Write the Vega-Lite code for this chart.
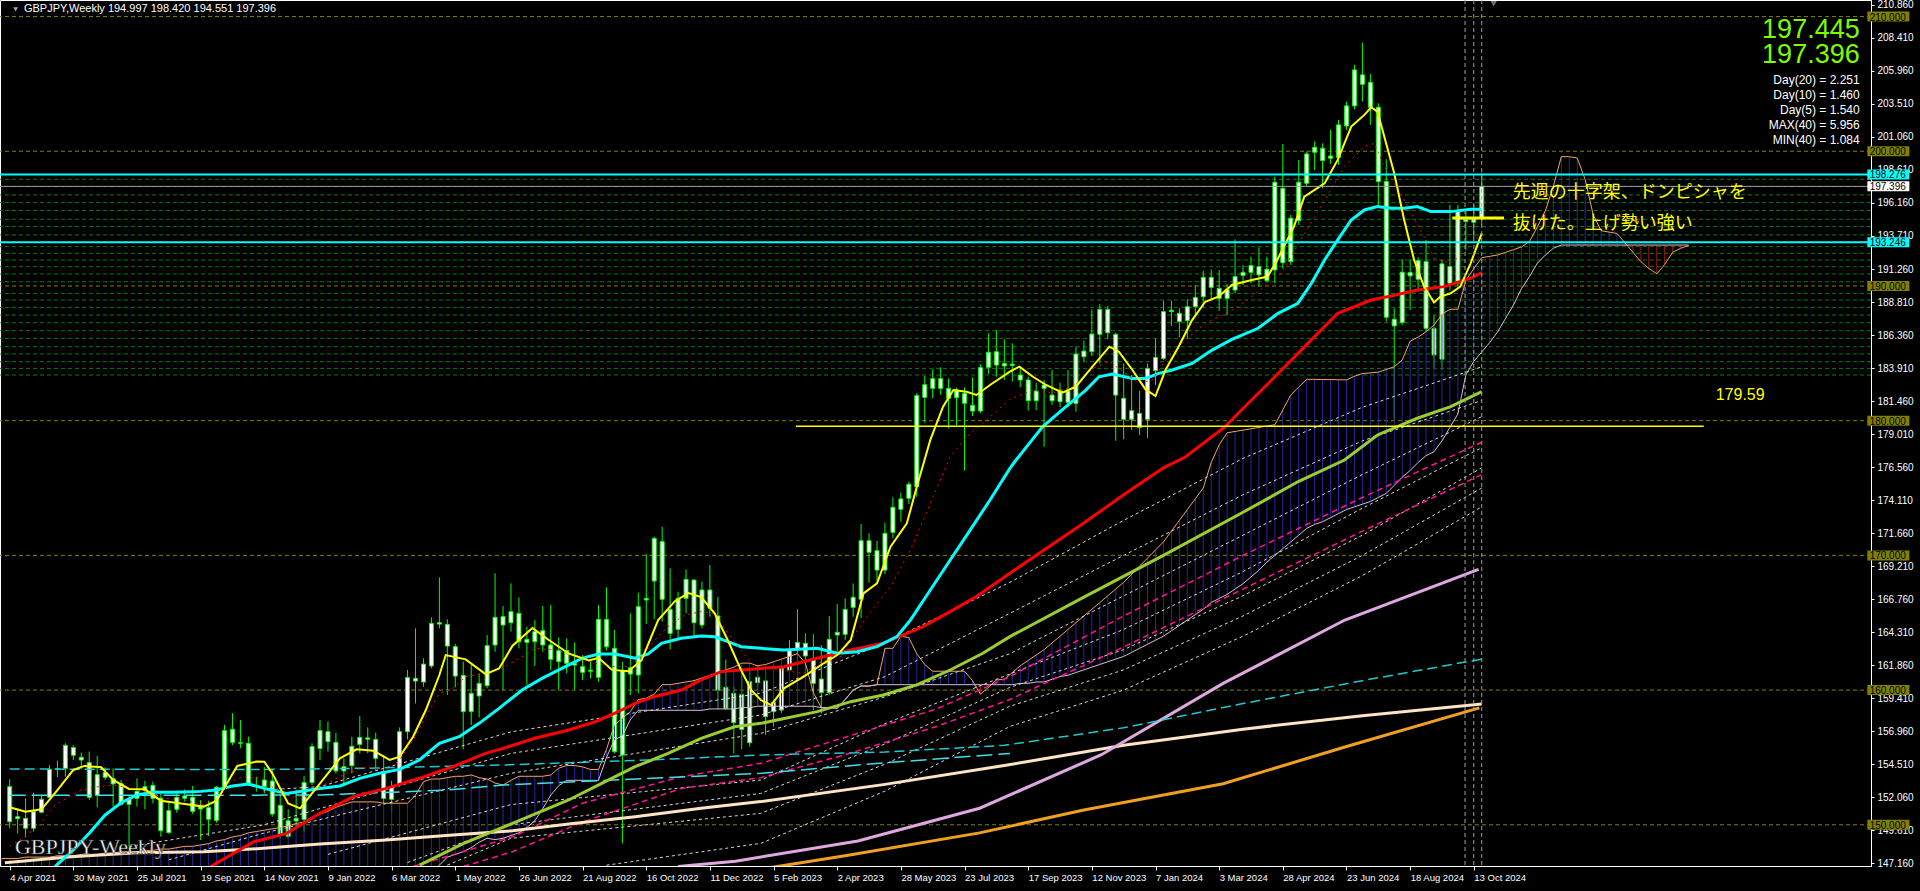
{
"$schema":"https://vega.github.io/schema/vega-lite/v6.json",
"width":1871,"height":866,
"autosize":{"type":"none"},
"padding":{"left":0,"top":0,"right":49,"bottom":25},
"background":"#000000",
"config":{"view":{"stroke":"#FFFFFF","strokeWidth":1},"font":"Liberation Sans"},
"resolve":{"scale":{"x":"shared","y":"shared"},"axis":{"x":"independent","y":"independent"}},
"datasets":{
"candles":[
{"n":0,"o":152.83,"h":153.37,"l":149.74,"c":150.23},{"n":1,"o":150.45,"h":151.22,"l":149.37,"c":150.6},{"n":2,"o":150.48,"h":151.97,"l":149.07,"c":149.74},{"n":3,"o":149.74,"h":152.39,"l":149.49,"c":150.97},{"n":4,"o":150.93,"h":152.21,"l":150.85,"c":151.89},{"n":5,"o":152.04,"h":154.44,"l":151.97,"c":154.12},{"n":6,"o":154.1,"h":154.76,"l":153.52,"c":154.15},{"n":7,"o":154.19,"h":156.05,"l":153.57,"c":155.9},{"n":8,"o":155.73,"h":155.9,"l":154.81,"c":155.16},{"n":9,"o":155.01,"h":155.36,"l":154.12,"c":154.81},
{"n":10,"o":154.61,"h":155.43,"l":151.84,"c":152.04},{"n":11,"o":152.19,"h":155.11,"l":151.3,"c":153.72},{"n":12,"o":153.87,"h":154.27,"l":153.33,"c":153.52},{"n":13,"o":153.43,"h":154.19,"l":151.35,"c":153.03},{"n":14,"o":153.05,"h":153.33,"l":151.4,"c":151.52},{"n":15,"o":151.52,"h":152.21,"l":148.38,"c":151.94},{"n":16,"o":151.97,"h":153.45,"l":151.35,"c":152.48},{"n":17,"o":152.56,"h":153.28,"l":151.15,"c":152.83},{"n":18,"o":152.93,"h":153.2,"l":151.59,"c":151.97},{"n":19,"o":151.97,"h":152.34,"l":149.12,"c":149.56},
{"n":20,"o":149.42,"h":151.64,"l":149.32,"c":151.05},{"n":21,"o":151.15,"h":152.34,"l":150.9,"c":152.04},{"n":22,"o":151.97,"h":152.63,"l":151.72,"c":152.14},{"n":23,"o":152.04,"h":152.88,"l":150.8,"c":151.0},{"n":24,"o":151.17,"h":151.84,"l":148.87,"c":151.35},{"n":25,"o":151.27,"h":151.79,"l":149.17,"c":150.41},{"n":26,"o":150.33,"h":152.88,"l":150.16,"c":152.78},{"n":27,"o":152.78,"h":157.41,"l":152.71,"c":156.99},{"n":28,"o":157.09,"h":158.28,"l":155.92,"c":156.12},{"n":29,"o":156.1,"h":157.78,"l":155.68,"c":156.05},
{"n":30,"o":156.05,"h":156.54,"l":152.88,"c":153.03},{"n":31,"o":152.93,"h":153.57,"l":152.46,"c":152.85},{"n":32,"o":152.83,"h":154.31,"l":152.33,"c":153.32},{"n":33,"o":153.25,"h":154.16,"l":150.6,"c":150.8},{"n":34,"o":151.44,"h":152.21,"l":148.99,"c":149.24},{"n":35,"o":149.14,"h":151.14,"l":148.99,"c":150.3},{"n":36,"o":150.28,"h":152.58,"l":149.66,"c":150.48},{"n":37,"o":150.4,"h":153.62,"l":149.49,"c":153.13},{"n":38,"o":153.13,"h":156.05,"l":152.95,"c":155.8},{"n":39,"o":155.67,"h":157.78,"l":154.81,"c":156.99},
{"n":40,"o":156.91,"h":157.66,"l":155.43,"c":156.17},{"n":41,"o":156.12,"h":156.84,"l":153.82,"c":154.0},{"n":42,"o":154.0,"h":154.93,"l":152.83,"c":154.31},{"n":43,"o":154.39,"h":156.54,"l":153.82,"c":155.82},{"n":44,"o":155.97,"h":158.07,"l":155.3,"c":156.49},{"n":45,"o":156.45,"h":157.23,"l":155.3,"c":156.35},{"n":46,"o":156.34,"h":156.84,"l":154.06,"c":154.93},{"n":47,"o":153.94,"h":155.18,"l":151.47,"c":151.96},{"n":48,"o":151.89,"h":153.27,"l":150.97,"c":152.83},{"n":49,"o":153.0,"h":157.23,"l":152.83,"c":156.91},
{"n":50,"o":156.91,"h":161.49,"l":156.34,"c":160.94},{"n":51,"o":160.87,"h":164.58,"l":159.01,"c":160.67},{"n":52,"o":160.6,"h":162.36,"l":160.25,"c":161.93},{"n":53,"o":161.79,"h":165.4,"l":161.61,"c":164.95},{"n":54,"o":164.9,"h":168.37,"l":164.58,"c":165.0},{"n":55,"o":164.88,"h":165.25,"l":159.63,"c":163.27},{"n":56,"o":163.22,"h":163.42,"l":160.2,"c":161.04},{"n":57,"o":161.09,"h":162.11,"l":155.6,"c":158.4},{"n":58,"o":158.4,"h":161.86,"l":157.41,"c":159.76},{"n":59,"o":159.56,"h":161.24,"l":157.97,"c":160.5},
{"n":60,"o":160.33,"h":164.09,"l":160.13,"c":163.3},{"n":61,"o":163.35,"h":168.67,"l":162.85,"c":165.4},{"n":62,"o":165.45,"h":166.24,"l":160.0,"c":164.83},{"n":63,"o":165.0,"h":167.92,"l":164.34,"c":165.82},{"n":64,"o":165.7,"h":166.88,"l":163.1,"c":163.59},{"n":65,"o":163.54,"h":164.71,"l":160.38,"c":163.77},{"n":66,"o":163.59,"h":165.2,"l":161.79,"c":164.34},{"n":67,"o":164.41,"h":166.24,"l":162.85,"c":163.35},{"n":68,"o":163.35,"h":166.31,"l":161.49,"c":162.28},{"n":69,"o":162.11,"h":163.91,"l":160.05,"c":162.93},
{"n":70,"o":162.93,"h":163.84,"l":161.24,"c":161.98},{"n":71,"o":161.98,"h":163.52,"l":160.05,"c":161.86},{"n":72,"o":161.74,"h":162.6,"l":160.75,"c":161.32},{"n":73,"o":161.4,"h":162.11,"l":160.87,"c":161.48},{"n":74,"o":160.95,"h":166.31,"l":160.62,"c":165.25},{"n":75,"o":165.25,"h":167.63,"l":162.93,"c":163.22},{"n":76,"o":163.1,"h":164.46,"l":155.3,"c":155.43},{"n":77,"o":155.18,"h":162.11,"l":148.62,"c":161.44},{"n":78,"o":161.66,"h":165.7,"l":159.63,"c":161.19},{"n":79,"o":161.12,"h":167.23,"l":159.76,"c":166.19},
{"n":80,"o":166.69,"h":170.1,"l":164.9,"c":166.81},{"n":81,"o":168.1,"h":171.39,"l":165.25,"c":171.26},{"n":82,"o":171.02,"h":172.13,"l":165.08,"c":166.74},{"n":83,"o":165.99,"h":169.04,"l":163.02,"c":164.21},{"n":84,"o":164.51,"h":167.3,"l":163.77,"c":166.81},{"n":85,"o":166.81,"h":168.96,"l":165.7,"c":168.22},{"n":86,"o":168.17,"h":168.22,"l":164.01,"c":165.0},{"n":87,"o":164.83,"h":168.05,"l":164.58,"c":167.43},{"n":88,"o":167.43,"h":169.28,"l":165.45,"c":166.07},{"n":89,"o":165.5,"h":166.93,"l":158.57,"c":160.0},
{"n":90,"o":160.2,"h":162.28,"l":158.52,"c":158.64},{"n":91,"o":157.58,"h":160.25,"l":155.3,"c":159.76},{"n":92,"o":159.68,"h":161.24,"l":155.6,"c":157.08},{"n":93,"o":156.09,"h":161.49,"l":155.8,"c":160.62},{"n":94,"o":160.55,"h":161.86,"l":158.9,"c":160.95},{"n":95,"o":160.68,"h":161.44,"l":156.67,"c":158.03},{"n":96,"o":158.4,"h":159.96,"l":157.28,"c":159.09},{"n":97,"o":158.52,"h":162.11,"l":158.32,"c":161.62},{"n":98,"o":161.49,"h":163.72,"l":161.12,"c":162.98},{"n":99,"o":163.1,"h":165.99,"l":161.74,"c":163.54},
{"n":100,"o":163.47,"h":164.21,"l":161.24,"c":162.53},{"n":101,"o":162.23,"h":164.16,"l":158.52,"c":160.5},{"n":102,"o":160.82,"h":163.35,"l":158.27,"c":159.81},{"n":103,"o":159.81,"h":165.5,"l":159.63,"c":163.77},{"n":104,"o":164.09,"h":166.39,"l":162.85,"c":164.29},{"n":105,"o":164.14,"h":166.81,"l":163.72,"c":165.99},{"n":106,"o":166.14,"h":167.92,"l":165.45,"c":166.89},{"n":107,"o":166.74,"h":172.33,"l":165.33,"c":171.09},{"n":108,"o":171.09,"h":171.64,"l":167.97,"c":170.23},{"n":109,"o":170.35,"h":171.09,"l":168.12,"c":168.91},
{"n":110,"o":168.91,"h":172.43,"l":168.62,"c":171.64},{"n":111,"o":171.71,"h":174.31,"l":171.27,"c":173.57},{"n":112,"o":173.42,"h":174.66,"l":172.5,"c":174.19},{"n":113,"o":174.24,"h":175.47,"l":173.82,"c":175.28},{"n":114,"o":175.1,"h":182.03,"l":174.36,"c":181.86},{"n":115,"o":181.73,"h":183.32,"l":179.85,"c":182.67},{"n":116,"o":182.4,"h":183.81,"l":181.66,"c":183.12},{"n":117,"o":183.12,"h":183.96,"l":181.91,"c":182.4},{"n":118,"o":182.4,"h":183.14,"l":179.43,"c":181.66},{"n":119,"o":181.71,"h":182.45,"l":179.68,"c":182.28},
{"n":120,"o":182.03,"h":182.48,"l":176.29,"c":181.29},{"n":121,"o":181.14,"h":183.22,"l":180.35,"c":180.72},{"n":122,"o":180.72,"h":184.18,"l":180.55,"c":183.94},{"n":123,"o":183.96,"h":186.49,"l":183.47,"c":185.08},{"n":124,"o":185.12,"h":186.73,"l":183.27,"c":184.13},{"n":125,"o":184.06,"h":186.04,"l":183.02,"c":184.25},{"n":126,"o":184.2,"h":185.74,"l":182.9,"c":184.1},{"n":127,"o":183.39,"h":184.01,"l":182.47,"c":183.02},{"n":128,"o":183.02,"h":183.26,"l":180.74,"c":181.48},{"n":129,"o":181.48,"h":182.82,"l":180.79,"c":182.2},
{"n":130,"o":182.4,"h":183.02,"l":178.07,"c":182.65},{"n":131,"o":181.9,"h":183.76,"l":181.16,"c":181.48},{"n":132,"o":181.41,"h":182.82,"l":180.99,"c":182.27},{"n":133,"o":182.2,"h":183.76,"l":180.99,"c":181.36},{"n":134,"o":181.28,"h":185.49,"l":180.67,"c":184.95},{"n":135,"o":184.75,"h":185.94,"l":184.38,"c":185.17},{"n":136,"o":185.12,"h":188.26,"l":184.8,"c":186.43},{"n":137,"o":186.41,"h":188.66,"l":184.25,"c":188.26},{"n":138,"o":188.26,"h":188.51,"l":186.04,"c":186.53},{"n":139,"o":186.41,"h":186.53,"l":178.51,"c":181.9},
{"n":140,"o":181.66,"h":184.25,"l":178.61,"c":180.1},{"n":141,"o":180.1,"h":183.39,"l":179.31,"c":180.74},{"n":142,"o":180.54,"h":182.22,"l":178.93,"c":179.5},{"n":143,"o":180.1,"h":184.25,"l":178.69,"c":183.88},{"n":144,"o":183.71,"h":186.11,"l":182.65,"c":184.7},{"n":145,"o":184.63,"h":188.91,"l":184.5,"c":188.09},{"n":146,"o":188.1,"h":188.91,"l":187.03,"c":188.2},{"n":147,"o":187.97,"h":188.34,"l":186.18,"c":187.35},{"n":148,"o":187.42,"h":189.01,"l":186.04,"c":188.46},{"n":149,"o":188.46,"h":190.07,"l":187.84,"c":189.15},
{"n":150,"o":189.2,"h":191.13,"l":188.46,"c":190.64},{"n":151,"o":190.64,"h":191.23,"l":188.91,"c":189.9},{"n":152,"o":189.82,"h":191.18,"l":188.16,"c":189.08},{"n":153,"o":189.08,"h":190.14,"l":187.84,"c":189.75},{"n":154,"o":189.7,"h":193.46,"l":189.45,"c":190.69},{"n":155,"o":190.79,"h":191.55,"l":190.07,"c":191.01},{"n":156,"o":191.02,"h":192.18,"l":190.2,"c":191.51},{"n":157,"o":191.44,"h":192.87,"l":189.95,"c":190.82},{"n":158,"o":190.4,"h":192.18,"l":190.25,"c":191.24},{"n":159,"o":191.19,"h":198.12,"l":190.2,"c":197.7},
{"n":160,"o":197.25,"h":200.54,"l":191.31,"c":191.73},{"n":161,"o":191.81,"h":195.27,"l":191.56,"c":195.03},{"n":162,"o":194.85,"h":199.36,"l":194.53,"c":197.7},{"n":163,"o":197.62,"h":199.98,"l":197.38,"c":199.8},{"n":164,"o":199.93,"h":200.72,"l":198.61,"c":200.3},{"n":165,"o":200.22,"h":200.59,"l":197.25,"c":199.31},{"n":166,"o":199.48,"h":201.58,"l":199.06,"c":199.65},{"n":167,"o":199.55,"h":202.33,"l":198.99,"c":201.96},{"n":168,"o":201.88,"h":203.69,"l":201.58,"c":203.37},{"n":169,"o":203.37,"h":206.41,"l":203.12,"c":206.04},
{"n":170,"o":205.67,"h":208.07,"l":203.69,"c":204.97},{"n":171,"o":205.12,"h":205.74,"l":201.95,"c":203.27},{"n":172,"o":203.27,"h":203.56,"l":195.84,"c":197.75},{"n":173,"o":197.75,"h":199.41,"l":187.36,"c":187.68},{"n":174,"o":187.03,"h":188.34,"l":180.05,"c":187.53},{"n":175,"o":187.28,"h":191.98,"l":187.11,"c":191.02},{"n":176,"o":191.0,"h":191.98,"l":188.22,"c":190.75},{"n":177,"o":190.5,"h":192.13,"l":189.58,"c":191.89},{"n":178,"o":191.81,"h":193.42,"l":186.61,"c":186.86},{"n":179,"o":186.86,"h":187.85,"l":183.89,"c":184.88},
{"n":180,"o":184.56,"h":191.93,"l":183.77,"c":191.64},{"n":181,"o":191.44,"h":196.02,"l":189.66,"c":190.2},{"n":182,"o":190.2,"h":196.02,"l":189.95,"c":195.6},{"n":183,"o":194.95,"h":195.52,"l":192.67,"c":194.78},{"n":184,"o":194.73,"h":196.02,"l":193.54,"c":195.0},{"n":185,"o":194.997,"h":198.42,"l":194.551,"c":197.396}
],
"yellow":[{"n":0,"v":151.3},{"n":2,"v":150.97},{"n":4,"v":151.15},{"n":6,"v":152.58},{"n":8,"v":154.07},{"n":9.4,"v":154.37},{"n":11.5,"v":154.27},{"n":13,"v":153.33},{"n":15,"v":152.66},{"n":17,"v":152.63},{"n":19,"v":151.79},{"n":22,"v":151.55},{"n":24.4,"v":151.35},{"n":26,"v":151.79},{"n":28.6,"v":154.37},{"n":31,"v":154.69},{"n":32,"v":154.68},{"n":33,"v":153.82},{"n":35,"v":151.59},{"n":36.5,"v":151.22},{"n":38,"v":152.33},{"n":40,"v":153.82},{"n":41.5,"v":154.93},{"n":43.6,"v":155.6},{"n":45.7,"v":155.5},{"n":47.75,"v":154.81},{"n":49,"v":155.05},{"n":50.7,"v":156.54},{"n":52.3,"v":158.52},{"n":54,"v":161.12},{"n":54.8,"v":162.6},{"n":57.3,"v":162.28},{"n":59.8,"v":161.19},{"n":61.5,"v":161.61},{"n":63.2,"v":163.3},{"n":65.7,"v":164.6},{"n":67.8,"v":163.7},{"n":70.3,"v":162.7},{"n":72.8,"v":162.2},{"n":74,"v":162.4},{"n":75.7,"v":161.5},{"n":77.75,"v":161.4},{"n":79.4,"v":162.2},{"n":81.5,"v":165.2},{"n":83.6,"v":166.6},{"n":85.3,"v":167.2},{"n":86.9,"v":166.9},{"n":88.6,"v":165.7},{"n":90.25,"v":163.7},{"n":91.9,"v":161.5},{"n":93.2,"v":160.0},{"n":94.4,"v":159.26},{"n":95.7,"v":158.89},{"n":97.3,"v":160.13},{"n":99.8,"v":161.0},{"n":102.3,"v":161.99},{"n":104,"v":162.6},{"n":105.7,"v":163.72},{"n":107.3,"v":167.18},{"n":109,"v":167.93},{"n":110.7,"v":170.65},{"n":112.75,"v":172.38},{"n":114,"v":175.1},{"n":115.7,"v":178.57},{"n":117.3,"v":181.04},{"n":118.6,"v":182.28},{"n":120.25,"v":182.15},{"n":121.5,"v":181.91},{"n":123.2,"v":182.65},{"n":125.7,"v":183.64},{"n":126.9,"v":184.01},{"n":128.6,"v":183.26},{"n":130.25,"v":182.65},{"n":132.3,"v":182.08},{"n":134,"v":182.52},{"n":135.7,"v":183.76},{"n":138.2,"v":185.49},{"n":139.4,"v":185.12},{"n":141.1,"v":183.76},{"n":142.75,"v":182.32},{"n":144,"v":181.83},{"n":145.25,"v":183.76},{"n":146.9,"v":185.49},{"n":148.6,"v":187.47},{"n":150.25,"v":188.83},{"n":151.9,"v":189.2},{"n":153.6,"v":190.07},{"n":156.1,"v":190.44},{"n":158.1,"v":190.7},{"n":159.3,"v":191.93},{"n":161.4,"v":194.41},{"n":162.7,"v":196.63},{"n":164,"v":197.13},{"n":165.25,"v":197.62},{"n":166.9,"v":199.36},{"n":168.6,"v":201.83},{"n":170.25,"v":202.7},{"n":171.1,"v":203.27},{"n":171.9,"v":202.94},{"n":172.75,"v":201.09},{"n":174,"v":198.37},{"n":175.25,"v":194.9},{"n":176.5,"v":191.93},{"n":177.75,"v":189.95},{"n":179,"v":188.77},{"n":179.8,"v":189.21},{"n":181.1,"v":189.46},{"n":182.3,"v":189.95},{"n":183.6,"v":191.68},{"n":185,"v":193.91}],
"reddot":[{"n":0,"v":148.4},{"n":3.6,"v":149.86},{"n":5.7,"v":151.47},{"n":9,"v":152.58},{"n":11.1,"v":152.83},{"n":13.2,"v":152.95},{"n":17,"v":152.46},{"n":19.4,"v":151.97},{"n":21.9,"v":151.84},{"n":24.4,"v":151.47},{"n":26,"v":151.79},{"n":27.75,"v":153.2},{"n":29.4,"v":153.57},{"n":31.9,"v":153.45},{"n":33.2,"v":152.7},{"n":35.25,"v":152.08},{"n":37.3,"v":152.08},{"n":39,"v":152.83},{"n":42.3,"v":153.82},{"n":44.8,"v":154.31},{"n":47.3,"v":154.06},{"n":49,"v":154.81},{"n":50.7,"v":156.29},{"n":52.3,"v":158.02},{"n":54,"v":159.76},{"n":55.7,"v":160.13},{"n":57.3,"v":161.0},{"n":59.8,"v":161.24},{"n":62.3,"v":161.74},{"n":64.4,"v":162.48},{"n":66,"v":163.1},{"n":68.6,"v":163.0},{"n":71.1,"v":162.48},{"n":73.6,"v":161.99},{"n":75.7,"v":161.74},{"n":77.75,"v":161.74},{"n":79.4,"v":162.48},{"n":81.1,"v":163.72},{"n":82.75,"v":164.71},{"n":84.8,"v":165.57},{"n":86.9,"v":165.82},{"n":88.6,"v":165.7},{"n":90.25,"v":164.21},{"n":91.9,"v":162.98},{"n":93.6,"v":161.74},{"n":96.5,"v":161.54},{"n":99.8,"v":161.24},{"n":102.3,"v":162.23},{"n":104,"v":162.11},{"n":105.7,"v":163.72},{"n":108.2,"v":165.82},{"n":110.7,"v":167.68},{"n":113.2,"v":170.4},{"n":115.7,"v":173.86},{"n":118.2,"v":177.33},{"n":120.7,"v":179.06},{"n":122.3,"v":179.8},{"n":125.7,"v":181.59},{"n":128.6,"v":182.27},{"n":131,"v":182.03},{"n":133.6,"v":182.52},{"n":136.1,"v":183.88},{"n":138.2,"v":184.38},{"n":140.25,"v":183.51},{"n":141.9,"v":182.77},{"n":143.6,"v":183.02},{"n":145.25,"v":184.5},{"n":147.75,"v":185.99},{"n":150.25,"v":187.22},{"n":152.75,"v":187.97},{"n":154.4,"v":188.47},{"n":156.9,"v":189.58},{"n":159.8,"v":190.94},{"n":162.75,"v":193.91},{"n":165.25,"v":196.39},{"n":167.75,"v":198.86},{"n":170.25,"v":200.35},{"n":171.5,"v":200.59},{"n":172.75,"v":198.86},{"n":175.25,"v":196.39},{"n":177.75,"v":193.66},{"n":179,"v":192.06},{"n":181.1,"v":191.69},{"n":182.75,"v":192.43},{"n":184.4,"v":193.54},{"n":185,"v":193.79}],
"cyan":[{"n":5.7,"v":146.9},{"n":8,"v":148.13},{"n":10,"v":149.37},{"n":12,"v":150.73},{"n":14,"v":151.64},{"n":16,"v":152.21},{"n":18,"v":152.41},{"n":20,"v":152.41},{"n":22,"v":152.44},{"n":24,"v":152.48},{"n":26,"v":152.58},{"n":28,"v":152.88},{"n":30,"v":153.03},{"n":32,"v":152.7},{"n":34.8,"v":152.33},{"n":39,"v":152.7},{"n":41.5,"v":152.88},{"n":44,"v":153.45},{"n":46.5,"v":153.82},{"n":49,"v":154.11},{"n":51.5,"v":154.81},{"n":54,"v":156.05},{"n":56.5,"v":156.54},{"n":59,"v":157.53},{"n":61.5,"v":158.64},{"n":64.4,"v":160.0},{"n":66.9,"v":160.87},{"n":69.4,"v":161.61},{"n":71.9,"v":162.36},{"n":74,"v":162.68},{"n":76.1,"v":162.68},{"n":78.6,"v":162.36},{"n":80.25,"v":162.68},{"n":81.9,"v":163.47},{"n":84.4,"v":163.84},{"n":86.9,"v":164.01},{"n":88.6,"v":163.96},{"n":90.25,"v":163.59},{"n":91.9,"v":163.22},{"n":94.4,"v":163.1},{"n":97.3,"v":162.98},{"n":101.5,"v":163.1},{"n":104,"v":162.73},{"n":106.5,"v":162.85},{"n":109,"v":163.22},{"n":111.5,"v":163.97},{"n":113.2,"v":165.2},{"n":115.7,"v":167.43},{"n":118.2,"v":169.66},{"n":120.7,"v":171.88},{"n":123.2,"v":174.11},{"n":125.7,"v":176.46},{"n":126.5,"v":177.1},{"n":129.8,"v":179.55},{"n":132.75,"v":181.04},{"n":135.25,"v":182.27},{"n":136.9,"v":183.26},{"n":138.6,"v":183.46},{"n":141.1,"v":183.14},{"n":142.75,"v":183.14},{"n":144.4,"v":183.51},{"n":146.1,"v":183.76},{"n":148.6,"v":184.25},{"n":151.1,"v":185.24},{"n":153.6,"v":186.04},{"n":156.9,"v":186.86},{"n":159.4,"v":187.97},{"n":161.9,"v":188.72},{"n":163.6,"v":190.2},{"n":165.25,"v":191.93},{"n":166.9,"v":193.42},{"n":168.6,"v":194.9},{"n":170.25,"v":195.64},{"n":171.9,"v":195.89},{"n":173.6,"v":195.77},{"n":175.25,"v":195.77},{"n":176.9,"v":195.89},{"n":178.6,"v":195.52},{"n":181.1,"v":195.52},{"n":183.6,"v":195.69},{"n":185,"v":195.69}],
"red":[{"n":25.25,"v":146.9},{"n":30.7,"v":148.74},{"n":34.8,"v":149.36},{"n":39,"v":150.85},{"n":43.2,"v":152.08},{"n":47.3,"v":152.7},{"n":51.5,"v":153.45},{"n":55.7,"v":154.31},{"n":59.8,"v":155.3},{"n":62,"v":155.67},{"n":66,"v":156.42},{"n":70.25,"v":157.04},{"n":73.6,"v":157.65},{"n":76,"v":158.27},{"n":78.6,"v":159.02},{"n":81,"v":159.51},{"n":84.4,"v":160.0},{"n":86.9,"v":160.75},{"n":89.4,"v":161.37},{"n":91.9,"v":161.49},{"n":94.4,"v":161.61},{"n":97.3,"v":161.74},{"n":101.5,"v":162.36},{"n":105.7,"v":162.98},{"n":109.8,"v":163.47},{"n":112.3,"v":164.09},{"n":114.8,"v":164.71},{"n":118.2,"v":165.82},{"n":121.5,"v":166.94},{"n":125.7,"v":168.67},{"n":130,"v":170.4},{"n":135,"v":172.4},{"n":140,"v":174.5},{"n":145,"v":176.5},{"n":147.75,"v":177.3},{"n":152.75,"v":179.55},{"n":154.4,"v":180.55},{"n":158.6,"v":183.02},{"n":162.75,"v":185.5},{"n":166.9,"v":187.97},{"n":171.1,"v":188.96},{"n":173.6,"v":189.26},{"n":176.9,"v":189.7},{"n":180.25,"v":189.95},{"n":183.6,"v":190.57},{"n":185,"v":191.0}],
"olive":[{"n":51.5,"v":147.0},{"n":57,"v":148.6},{"n":63.2,"v":150.1},{"n":70.25,"v":151.84},{"n":74.4,"v":153.08},{"n":78.6,"v":154.31},{"n":82.75,"v":155.3},{"n":86.9,"v":156.42},{"n":91.1,"v":157.28},{"n":94.4,"v":157.53},{"n":101.5,"v":158.4},{"n":105.7,"v":159.14},{"n":109.8,"v":159.64},{"n":114,"v":160.38},{"n":118.2,"v":161.49},{"n":122.3,"v":162.73},{"n":125.7,"v":163.97},{"n":135,"v":166.9},{"n":145,"v":170.0},{"n":155,"v":173.2},{"n":162,"v":175.5},{"n":167.75,"v":177.08},{"n":171.9,"v":178.94},{"n":176.9,"v":180.18},{"n":181.1,"v":181.04},{"n":185,"v":182.16}],
"pink":[{"n":84,"v":146.9},{"n":91.2,"v":147.3},{"n":106.6,"v":148.8},{"n":121.9,"v":151.23},{"n":137.2,"v":155.2},{"n":152.5,"v":160.5},{"n":167.8,"v":165.2},{"n":184.6,"v":168.96}],
"cream":[{"n":-0.6,"v":147.19},{"n":7.75,"v":147.63},{"n":16,"v":147.93},{"n":24.4,"v":148.0},{"n":31.9,"v":148.25},{"n":39,"v":148.57},{"n":47.3,"v":148.87},{"n":55.7,"v":149.24},{"n":63.2,"v":149.56},{"n":70.25,"v":150.06},{"n":78.6,"v":150.6},{"n":86.9,"v":151.22},{"n":94.4,"v":151.72},{"n":110,"v":153.0},{"n":125,"v":154.4},{"n":140,"v":155.9},{"n":155,"v":157.1},{"n":170,"v":158.1},{"n":185,"v":158.97}],
"orange":[{"n":94.3,"v":146.7},{"n":105,"v":147.7},{"n":121.9,"v":149.4},{"n":135,"v":151.1},{"n":152.5,"v":153.05},{"n":167.8,"v":155.77},{"n":184.7,"v":158.68}],
"cyandash":[{"n":0,"v":154.14},{"n":31,"v":154.1},{"n":45,"v":154.2},{"n":62,"v":154.44},{"n":80,"v":154.8},{"n":94.4,"v":155.18},{"n":110,"v":155.4},{"n":125,"v":155.9},{"n":140,"v":157.2},{"n":155,"v":159.0},{"n":170,"v":160.7},{"n":185,"v":162.3}],
"cyan2":[{"n":0,"v":152.2},{"n":31,"v":152.2},{"n":39,"v":152.21},{"n":55,"v":152.58},{"n":62,"v":152.95},{"n":94.4,"v":153.82},{"n":110,"v":154.6},{"n":125.7,"v":155.3}],
"whitedash":[
{"s":"w1","n":31.9,"v":152.58},{"s":"w1","n":39,"v":152.83},{"s":"w1","n":63,"v":156.9},{"s":"w1","n":94.4,"v":159.76},{"s":"w1","n":110,"v":163.5},{"s":"w1","n":125.7,"v":168.0},{"s":"w1","n":140,"v":172.6},{"s":"w1","n":155,"v":177.2},{"s":"w1","n":170,"v":181.0},{"s":"w1","n":185,"v":184.0},
{"s":"w2","n":15,"v":148.38},{"s":"w2","n":31.9,"v":149.99},{"s":"w2","n":63,"v":155.3},{"s":"w2","n":94.4,"v":158.15},{"s":"w2","n":110,"v":161.0},{"s":"w2","n":125.7,"v":165.7},{"s":"w2","n":140,"v":170.0},{"s":"w2","n":155,"v":174.5},{"s":"w2","n":170,"v":178.5},{"s":"w2","n":185,"v":181.5},
{"s":"w3","n":20,"v":147.4},{"s":"w3","n":31.9,"v":149.37},{"s":"w3","n":63,"v":153.82},{"s":"w3","n":94.4,"v":156.79},{"s":"w3","n":110,"v":159.5},{"s":"w3","n":125.7,"v":162.7},{"s":"w3","n":140,"v":167.0},{"s":"w3","n":155,"v":171.5},{"s":"w3","n":170,"v":176.0},{"s":"w3","n":185,"v":180.3},
{"s":"w4","n":40,"v":147.8},{"s":"w4","n":63,"v":151.5},{"s":"w4","n":94.4,"v":153.32},{"s":"w4","n":110,"v":157.5},{"s":"w4","n":125.7,"v":161.2},{"s":"w4","n":140,"v":164.5},{"s":"w4","n":155,"v":168.8},{"s":"w4","n":170,"v":173.5},{"s":"w4","n":185,"v":178.0},
{"s":"w5","n":50,"v":147.2},{"s":"w5","n":63,"v":150.0},{"s":"w5","n":94.4,"v":152.33},{"s":"w5","n":110,"v":156.0},{"s":"w5","n":125.7,"v":160.2},{"s":"w5","n":140,"v":163.0},{"s":"w5","n":155,"v":167.0},{"s":"w5","n":170,"v":171.5},{"s":"w5","n":185,"v":176.5},
{"s":"w6","n":55,"v":147.0},{"s":"w6","n":63,"v":149.0},{"s":"w6","n":94.4,"v":150.85},{"s":"w6","n":110,"v":154.5},{"s":"w6","n":125.7,"v":158.8},{"s":"w6","n":140,"v":161.5},{"s":"w6","n":155,"v":165.5},{"s":"w6","n":170,"v":170.0},{"s":"w6","n":185,"v":175.0},
{"s":"w7","n":75,"v":147.0},{"s":"w7","n":94.4,"v":148.62},{"s":"w7","n":110,"v":152.5},{"s":"w7","n":125.7,"v":157.3},{"s":"w7","n":140,"v":160.0},{"s":"w7","n":155,"v":164.0},{"s":"w7","n":170,"v":168.5},{"s":"w7","n":185,"v":173.6}],
"magenta":[
{"s":"m1","n":50.7,"v":146.9},{"s":"m1","n":63.2,"v":149.1},{"s":"m1","n":72,"v":151.6},{"s":"m1","n":84.4,"v":153.57},{"s":"m1","n":94.4,"v":154.56},{"s":"m1","n":105,"v":156.5},{"s":"m1","n":116.5,"v":158.6},{"s":"m1","n":125.7,"v":161.0},{"s":"m1","n":140,"v":165.5},{"s":"m1","n":155,"v":170.0},{"s":"m1","n":170,"v":174.3},{"s":"m1","n":185,"v":178.4},
{"s":"m2","n":57,"v":146.9},{"s":"m2","n":63.2,"v":148.0},{"s":"m2","n":72,"v":150.2},{"s":"m2","n":84.4,"v":152.7},{"s":"m2","n":94.4,"v":153.5},{"s":"m2","n":105,"v":155.2},{"s":"m2","n":116.5,"v":157.3},{"s":"m2","n":125.7,"v":159.3},{"s":"m2","n":140,"v":163.2},{"s":"m2","n":155,"v":167.5},{"s":"m2","n":170,"v":171.8},{"s":"m2","n":185,"v":176.0}],
"cloud":[{"n":-1,"a":147.5,"b":145},{"n":0,"a":147.5,"b":145},{"n":1,"a":147.5,"b":145},{"n":2,"a":147.6,"b":145},{"n":3,"a":147.6,"b":145},{"n":4,"a":147.6,"b":145},{"n":5,"a":147.6,"b":145},{"n":6,"a":147.7,"b":145},{"n":7,"a":147.7,"b":145},{"n":8,"a":147.7,"b":145},{"n":9,"a":147.8,"b":145},{"n":10,"a":147.8,"b":145},{"n":11,"a":147.8,"b":145.1},{"n":12,"a":147.9,"b":145.1},{"n":13,"a":147.9,"b":145.2},{"n":14,"a":148,"b":145.2},{"n":15,"a":148,"b":145.3},{"n":16,"a":148,"b":145.3},{"n":17,"a":148.1,"b":145.4},{"n":18,"a":148.1,"b":145.4},{"n":19,"a":148.2,"b":145.5},{"n":20,"a":148.2,"b":145.5},{"n":21,"a":148.3,"b":145.5},{"n":22,"a":148.4,"b":145.5},{"n":23,"a":148.4,"b":145.5},{"n":24,"a":148.5,"b":145.5},{"n":25,"a":148.6,"b":145.5},{"n":26,"a":148.8,"b":145.5},{"n":27,"a":148.9,"b":145.5},{"n":28,"a":149.1,"b":145.5},{"n":29,"a":149.2,"b":145.5},
{"n":30,"a":149.4,"b":145.5},{"n":31,"a":149.5,"b":145.5},{"n":32,"a":149.6,"b":145.5},{"n":33,"a":149.7,"b":145.5},{"n":34,"a":149.8,"b":145.5},{"n":35,"a":149.9,"b":145.5},{"n":36,"a":150.1,"b":145.5},{"n":37,"a":150.2,"b":145.5},{"n":38,"a":150.5,"b":145.5},{"n":39,"a":150.8,"b":145.5},{"n":40,"a":151,"b":145.5},{"n":41,"a":151.3,"b":145.5},{"n":42,"a":151.5,"b":145.5},{"n":43,"a":151.7,"b":145.5},{"n":44,"a":151.7,"b":145.6},{"n":45,"a":151.7,"b":145.6},{"n":46,"a":151.7,"b":145.7},{"n":47,"a":151.6,"b":145.8},{"n":48,"a":151.6,"b":145.8},{"n":49,"a":151.6,"b":145.9},{"n":50,"a":151.6,"b":146},{"n":51,"a":152.2,"b":146},{"n":52,"a":153.2,"b":146.1},{"n":53,"a":153.4,"b":146.5},{"n":54,"a":153.4,"b":147},{"n":55,"a":153.5,"b":147.6},{"n":56,"a":153.6,"b":147.8},{"n":57,"a":153.6,"b":148},{"n":58,"a":153.7,"b":148.3},{"n":59,"a":153.5,"b":148.7},
{"n":60,"a":153.4,"b":149},{"n":61,"a":153.1,"b":148.9},{"n":62,"a":152.95,"b":149},{"n":63,"a":153.3,"b":149.2},{"n":64,"a":153.6,"b":149.4},{"n":65,"a":153.6,"b":149.8},{"n":66,"a":153.6,"b":150.3},{"n":67,"a":153.6,"b":151.2},{"n":68,"a":153.7,"b":152.2},{"n":69,"a":154.2,"b":152.9},{"n":70,"a":154.4,"b":153.3},{"n":71,"a":154.4,"b":153.3},{"n":72,"a":154.3,"b":153.3},{"n":73,"a":154.1,"b":153.3},{"n":74,"a":154.1,"b":153.3},{"n":75,"a":155.6,"b":155},{"n":76,"a":157.4,"b":156.3},{"n":77,"a":157.9,"b":156.6},{"n":78,"a":158.4,"b":157.8},{"n":79,"a":159.3,"b":158.5},{"n":80,"a":159.4,"b":158.5},{"n":81,"a":159.7,"b":158.5},{"n":82,"a":160.4,"b":158.5},{"n":83,"a":160.4,"b":158.5},{"n":84,"a":160.5,"b":158.5},{"n":85,"a":160.6,"b":158.5},{"n":86,"a":160.7,"b":158.5},{"n":87,"a":160.9,"b":158.5},{"n":88,"a":161.1,"b":158.6},{"n":89,"a":161.3,"b":158.6},
{"n":90,"a":161.5,"b":158.6},{"n":91,"a":161.7,"b":158.6},{"n":92,"a":162,"b":158.7},{"n":93,"a":162,"b":158.7},{"n":94,"a":161.8,"b":158.8},{"n":95,"a":161.9,"b":158.8},{"n":96,"a":162.1,"b":158.8},{"n":97,"a":162.3,"b":158.8},{"n":98,"a":162.5,"b":158.8},{"n":99,"a":162.7,"b":158.8},{"n":100,"a":162,"b":158.8},{"n":101,"a":159.8,"b":158.8},{"n":102,"a":158.7,"b":158.7},{"n":103,"a":158.7,"b":158.7},{"n":104,"a":158.65,"b":158.65},{"n":105,"a":159.3,"b":159.3},{"n":106,"a":160,"b":160},{"n":107,"a":160.3,"b":160.3},{"n":108,"a":160.3,"b":160.3},{"n":109,"a":160.4,"b":160.4},{"n":110,"a":163.1,"b":160.4},{"n":111,"a":163.1,"b":160.4},{"n":112,"a":164,"b":160.4},{"n":113,"a":163.9,"b":160.4},{"n":114,"a":162.7,"b":160.4},{"n":115,"a":161.9,"b":160.4},{"n":116,"a":161.4,"b":160.4},{"n":117,"a":161.4,"b":160.4},{"n":118,"a":161.4,"b":160.4},{"n":119,"a":161.4,"b":160.4},
{"n":120,"a":161.4,"b":160.4},{"n":121,"a":160.7,"b":160.4},{"n":122,"a":159.7,"b":160.4},{"n":123,"a":160.2,"b":160.4},{"n":124,"a":160.75,"b":160.4},{"n":125,"a":160.8,"b":160.4},{"n":126,"a":161.3,"b":160.4},{"n":127,"a":161.8,"b":160.5},{"n":128,"a":162.2,"b":160.5},{"n":129,"a":162.6,"b":160.6},{"n":130,"a":163,"b":160.6},{"n":131,"a":163.5,"b":160.8},{"n":132,"a":164,"b":161},{"n":133,"a":164.5,"b":161.1},{"n":134,"a":165,"b":161.3},{"n":135,"a":165.5,"b":161.5},{"n":136,"a":166,"b":161.7},{"n":137,"a":166.5,"b":161.9},{"n":138,"a":167,"b":162.1},{"n":139,"a":167.5,"b":162.3},{"n":140,"a":168,"b":162.5},{"n":141,"a":168.6,"b":162.8},{"n":142,"a":169.2,"b":163.1},{"n":143,"a":169.8,"b":163.4},{"n":144,"a":170.4,"b":163.7},{"n":145,"a":171,"b":164},{"n":146,"a":171.8,"b":164.4},{"n":147,"a":172.6,"b":164.8},{"n":148,"a":173.4,"b":165.2},{"n":149,"a":174.2,"b":165.6},
{"n":150,"a":175,"b":166},{"n":151,"a":176.9,"b":166.5},{"n":152,"a":178.2,"b":166.8},{"n":153,"a":179.1,"b":167.1},{"n":154,"a":179.2,"b":167.5},{"n":155,"a":179.3,"b":167.9},{"n":156,"a":179.4,"b":168.4},{"n":157,"a":179.5,"b":168.9},{"n":158,"a":179.6,"b":169.5},{"n":159,"a":179.7,"b":170},{"n":160,"a":180.8,"b":170.5},{"n":161,"a":181.9,"b":171},{"n":162,"a":182.5,"b":171.5},{"n":163,"a":183.07,"b":172},{"n":164,"a":183.07,"b":172.3},{"n":165,"a":183.05,"b":172.5},{"n":166,"a":183.05,"b":172.8},{"n":167,"a":183.04,"b":173.1},{"n":168,"a":183.03,"b":173.4},{"n":169,"a":183.3,"b":173.6},{"n":170,"a":183.5,"b":173.8},{"n":171,"a":183.55,"b":174},{"n":172,"a":183.6,"b":174.3},{"n":173,"a":183.8,"b":174.6},{"n":174,"a":184,"b":175.2},{"n":175,"a":184.5,"b":175.8},{"n":176,"a":185.9,"b":176.3},{"n":177,"a":186.2,"b":176.9},{"n":178,"a":186.6,"b":177.4},{"n":179,"a":187.1,"b":177.7},
{"n":180,"a":187.9,"b":178.5},{"n":181,"a":188.27,"b":179.5},{"n":182,"a":188.27,"b":180.5},{"n":183,"a":190.4,"b":183.4},{"n":184,"a":191.3,"b":184.4},{"n":185,"a":192.1,"b":185.1},{"n":186,"a":192.2,"b":185.8},{"n":187,"a":192.3,"b":186.6},{"n":188,"a":192.5,"b":187.6},{"n":189,"a":192.7,"b":188.6},{"n":190,"a":192.9,"b":189.8},{"n":191,"a":193.3,"b":190.7},{"n":192,"a":194.4,"b":191.7},{"n":193,"a":195.6,"b":192.3},{"n":194,"a":197.4,"b":192.8},{"n":195,"a":199.6,"b":193.04},{"n":196,"a":199.6,"b":193.04},{"n":197,"a":199.5,"b":193.04},{"n":198,"a":197.9,"b":193.04},{"n":199,"a":195.3,"b":193.04},{"n":200,"a":194.1,"b":193.04},{"n":201,"a":194,"b":193.04},{"n":202,"a":193.9,"b":193.04},{"n":203,"a":193.2,"b":193.04},{"n":204,"a":192.5,"b":193.04},{"n":205,"a":191.8,"b":193.04},{"n":206,"a":191.3,"b":193.04},{"n":207,"a":190.9,"b":193.04},{"n":208,"a":191.6,"b":193.04},{"n":209,"a":192.5,"b":193.04},{"n":210,"a":192.8,"b":193.04},{"n":211,"a":193,"b":193.04}],
"olivelev":[{"p":150},{"p":160},{"p":170},{"p":180},{"p":190},{"p":200},{"p":210}],
"greenlev":[{"p":197.92},{"p":197.38},{"p":196.76},{"p":196.19},{"p":195.6},{"p":194.95},{"p":194.41},{"p":193.79},{"p":192.92},{"p":192.42},{"p":191.93},{"p":191.43},{"p":190.89},{"p":190.32},{"p":189.45},{"p":188.96},{"p":188.41},{"p":187.84},{"p":187.27},{"p":186.68},{"p":186.11},{"p":185.49},{"p":184.95},{"p":184.38},{"p":183.88},{"p":183.39}],
"boxes":[{"p":210,"t":"210.000","bg":"#808000"},{"p":200,"t":"200.000","bg":"#808000"},{"p":190,"t":"190.000","bg":"#808000"},{"p":180,"t":"180.000","bg":"#808000"},{"p":170,"t":"170.000","bg":"#808000"},{"p":160,"t":"160.000","bg":"#808000"},{"p":150,"t":"150.000","bg":"#808000"},{"p":198.276,"t":"198.276","bg":"#00FFFF"},{"p":193.246,"t":"193.246","bg":"#00FFFF"},{"p":197.396,"t":"197.396","bg":"#FFFFFF"}]
},
"layer":[
{"data":{"name":"olivelev"},"mark":{"type":"rule","color":"#808000","strokeDash":[4,3],"strokeWidth":1},
 "encoding":{"y":{"field":"p","type":"quantitative","scale":{"domain":[146.94,211.23],"nice":false,"zero":false},
   "axis":{"orient":"right","values":[147.16,149.61,152.06,154.51,156.96,159.41,161.86,164.31,166.76,169.21,171.66,174.11,176.56,179.01,181.46,183.91,186.36,188.81,191.26,193.71,196.16,198.61,201.06,203.51,205.96,208.41,210.86],"format":".3f","title":null,"grid":false,"domainColor":"#FFFFFF","tickColor":"#FFFFFF","tickSize":3,"labelColor":"#FFFFFF","labelFontSize":10,"labelFont":"Liberation Sans","labelPadding":3,"labelFlush":false,"labelOverlap":false}}}},
{"data":{"name":"greenlev"},"mark":{"type":"rule","color":"#008000","strokeDash":[4,3],"strokeWidth":1},
 "encoding":{"y":{"field":"p","type":"quantitative","scale":{"domain":[146.94,211.23],"nice":false,"zero":false},"axis":null}}},
{"data":{"name":"candles"},"mark":{"type":"rule","color":"#00FF00","strokeWidth":1},
 "encoding":{"x":{"field":"n","type":"quantitative","scale":{"domain":[-0.5875,233.29],"nice":false,"zero":false},
   "axis":{"orient":"bottom","values":[0,8,16,24,32,40,48,56,64,72,80,88,96,104,112,120,128,136,144,152,160,168,176,184],"labelExpr":"['4 Apr 2021','30 May 2021','25 Jul 2021','19 Sep 2021','14 Nov 2021','9 Jan 2022','6 Mar 2022','1 May 2022','26 Jun 2022','21 Aug 2022','16 Oct 2022','11 Dec 2022','5 Feb 2023','2 Apr 2023','28 May 2023','23 Jul 2023','17 Sep 2023','12 Nov 2023','7 Jan 2024','3 Mar 2024','28 Apr 2024','23 Jun 2024','18 Aug 2024','13 Oct 2024'][round(datum.value/8)]","title":null,"grid":false,"domainColor":"#FFFFFF","tickColor":"#FFFFFF","tickSize":4,"labelColor":"#FFFFFF","labelFontSize":9.5,"labelFont":"Liberation Sans","labelAlign":"left","labelPadding":2,"labelFlush":false,"labelOverlap":false}},
  "y":{"field":"l","type":"quantitative","scale":{"domain":[146.94,211.23],"nice":false,"zero":false},"axis":null},"y2":{"field":"h"}}},
{"data":{"name":"candles"},"mark":{"type":"bar","size":4,"fill":"#FFFFFF","stroke":"#00FF00","strokeWidth":1},
 "encoding":{"x":{"field":"n","type":"quantitative","scale":{"domain":[-0.5875,233.29],"nice":false,"zero":false},"axis":null},
  "y":{"field":"o","type":"quantitative","scale":{"domain":[146.94,211.23],"nice":false,"zero":false},"axis":null},"y2":{"field":"c"}}},
{"data":{"name":"cloud"},"mark":{"type":"rule","strokeWidth":1,"clip":true},
 "encoding":{"x":{"field":"n","type":"quantitative","scale":{"domain":[-0.5875,233.29],"nice":false,"zero":false},"axis":null},
  "y":{"field":"a","type":"quantitative","scale":{"domain":[146.94,211.23],"nice":false,"zero":false},"axis":null},"y2":{"field":"b"},
  "color":{"condition":{"test":"datum.a >= datum.b","value":"#2626A8"},"value":"#B41414"}}},
{"data":{"name":"cloud"},"mark":{"type":"line","color":"#F4A460","strokeWidth":1,"clip":true},
 "encoding":{"x":{"field":"n","type":"quantitative","scale":{"domain":[-0.5875,233.29],"nice":false,"zero":false},"axis":null},
  "y":{"field":"a","type":"quantitative","scale":{"domain":[146.94,211.23],"nice":false,"zero":false},"axis":null}}},
{"data":{"name":"cloud"},"mark":{"type":"line","color":"#D8BFD8","strokeWidth":1,"clip":true},
 "encoding":{"x":{"field":"n","type":"quantitative","scale":{"domain":[-0.5875,233.29],"nice":false,"zero":false},"axis":null},
  "y":{"field":"b","type":"quantitative","scale":{"domain":[146.94,211.23],"nice":false,"zero":false},"axis":null}}},
{"data":{"name":"whitedash"},"mark":{"type":"line","color":"#D8D8D8","strokeWidth":1,"strokeDash":[3,3],"clip":true},
 "encoding":{"x":{"field":"n","type":"quantitative","scale":{"domain":[-0.5875,233.29],"nice":false,"zero":false},"axis":null},
  "y":{"field":"v","type":"quantitative","scale":{"domain":[146.94,211.23],"nice":false,"zero":false},"axis":null},"detail":{"field":"s"}}},
{"data":{"name":"magenta"},"mark":{"type":"line","color":"#FF1493","strokeWidth":1.5,"strokeDash":[6,4],"clip":true},
 "encoding":{"x":{"field":"n","type":"quantitative","scale":{"domain":[-0.5875,233.29],"nice":false,"zero":false},"axis":null},
  "y":{"field":"v","type":"quantitative","scale":{"domain":[146.94,211.23],"nice":false,"zero":false},"axis":null},"detail":{"field":"s"}}},
{"data":{"name":"orange"},"mark":{"type":"line","color":"#F0A020","strokeWidth":3,"clip":true},
 "encoding":{"x":{"field":"n","type":"quantitative","scale":{"domain":[-0.5875,233.29],"nice":false,"zero":false},"axis":null},
  "y":{"field":"v","type":"quantitative","scale":{"domain":[146.94,211.23],"nice":false,"zero":false},"axis":null}}},
{"data":{"name":"cream"},"mark":{"type":"line","color":"#FFE4C4","strokeWidth":3,"clip":true},
 "encoding":{"x":{"field":"n","type":"quantitative","scale":{"domain":[-0.5875,233.29],"nice":false,"zero":false},"axis":null},
  "y":{"field":"v","type":"quantitative","scale":{"domain":[146.94,211.23],"nice":false,"zero":false},"axis":null}}},
{"data":{"name":"pink"},"mark":{"type":"line","color":"#E0A8E0","strokeWidth":3,"clip":true},
 "encoding":{"x":{"field":"n","type":"quantitative","scale":{"domain":[-0.5875,233.29],"nice":false,"zero":false},"axis":null},
  "y":{"field":"v","type":"quantitative","scale":{"domain":[146.94,211.23],"nice":false,"zero":false},"axis":null}}},
{"data":{"name":"cyandash"},"mark":{"type":"line","color":"#20C8D0","strokeWidth":1.5,"strokeDash":[10,5],"clip":true},
 "encoding":{"x":{"field":"n","type":"quantitative","scale":{"domain":[-0.5875,233.29],"nice":false,"zero":false},"axis":null},
  "y":{"field":"v","type":"quantitative","scale":{"domain":[146.94,211.23],"nice":false,"zero":false},"axis":null}}},
{"data":{"name":"cyan2"},"mark":{"type":"line","color":"#40E0E8","strokeWidth":1.5,"strokeDash":[16,6],"clip":true},
 "encoding":{"x":{"field":"n","type":"quantitative","scale":{"domain":[-0.5875,233.29],"nice":false,"zero":false},"axis":null},
  "y":{"field":"v","type":"quantitative","scale":{"domain":[146.94,211.23],"nice":false,"zero":false},"axis":null}}},
{"data":{"name":"olive"},"mark":{"type":"line","color":"#9ACD32","strokeWidth":3,"clip":true},
 "encoding":{"x":{"field":"n","type":"quantitative","scale":{"domain":[-0.5875,233.29],"nice":false,"zero":false},"axis":null},
  "y":{"field":"v","type":"quantitative","scale":{"domain":[146.94,211.23],"nice":false,"zero":false},"axis":null}}},
{"data":{"name":"red"},"mark":{"type":"line","color":"#FF0000","strokeWidth":3,"clip":true},
 "encoding":{"x":{"field":"n","type":"quantitative","scale":{"domain":[-0.5875,233.29],"nice":false,"zero":false},"axis":null},
  "y":{"field":"v","type":"quantitative","scale":{"domain":[146.94,211.23],"nice":false,"zero":false},"axis":null}}},
{"data":{"name":"cyan"},"mark":{"type":"line","color":"#00FFFF","strokeWidth":3,"clip":true},
 "encoding":{"x":{"field":"n","type":"quantitative","scale":{"domain":[-0.5875,233.29],"nice":false,"zero":false},"axis":null},
  "y":{"field":"v","type":"quantitative","scale":{"domain":[146.94,211.23],"nice":false,"zero":false},"axis":null}}},
{"data":{"name":"reddot"},"mark":{"type":"line","color":"#FF0000","strokeWidth":1,"strokeDash":[2,4],"clip":true},
 "encoding":{"x":{"field":"n","type":"quantitative","scale":{"domain":[-0.5875,233.29],"nice":false,"zero":false},"axis":null},
  "y":{"field":"v","type":"quantitative","scale":{"domain":[146.94,211.23],"nice":false,"zero":false},"axis":null}}},
{"data":{"name":"yellow"},"mark":{"type":"line","color":"#FFFF00","strokeWidth":2,"clip":true},
 "encoding":{"x":{"field":"n","type":"quantitative","scale":{"domain":[-0.5875,233.29],"nice":false,"zero":false},"axis":null},
  "y":{"field":"v","type":"quantitative","scale":{"domain":[146.94,211.23],"nice":false,"zero":false},"axis":null}}},
{"data":{"values":[{"p":197.396}]},"mark":{"type":"rule","color":"#A0A0A0","strokeWidth":1},
 "encoding":{"y":{"field":"p","type":"quantitative","scale":{"domain":[146.94,211.23],"nice":false,"zero":false},"axis":null}}},
{"data":{"values":[{"p":198.276},{"p":193.246}]},"mark":{"type":"rule","color":"#00FFFF","strokeWidth":2},
 "encoding":{"y":{"field":"p","type":"quantitative","scale":{"domain":[146.94,211.23],"nice":false,"zero":false},"axis":null}}},
{"data":{"values":[{"n":182.9},{"n":184},{"n":185}]},"mark":{"type":"rule","color":"#A0A0A0","strokeWidth":1,"strokeDash":[4,3]},
 "encoding":{"x":{"field":"n","type":"quantitative","scale":{"domain":[-0.5875,233.29],"nice":false,"zero":false},"axis":null}}},
{"data":{"values":[{"n1":98.8,"n2":212.9,"p":179.59,"w":1.5},{"n1":181.3,"n2":187.8,"p":195.05,"w":3}]},"mark":{"type":"rule","color":"#FFFF00"},
 "encoding":{"x":{"field":"n1","type":"quantitative","scale":{"domain":[-0.5875,233.29],"nice":false,"zero":false},"axis":null},"x2":{"field":"n2"},
  "y":{"field":"p","type":"quantitative","scale":{"domain":[146.94,211.23],"nice":false,"zero":false},"axis":null},
  "strokeWidth":{"field":"w","type":"quantitative","scale":null}}},
{"data":{"values":[{"n":186.5,"v":210.95}]},"mark":{"type":"point","shape":"triangle-down","filled":true,"color":"#A0A0A0","size":40},
 "encoding":{"x":{"field":"n","type":"quantitative","scale":{"domain":[-0.5875,233.29],"nice":false,"zero":false},"axis":null},
  "y":{"field":"v","type":"quantitative","scale":{"domain":[146.94,211.23],"nice":false,"zero":false},"axis":null}}},
{"data":{"values":[{"n":214.4,"v":181.53,"t":"179.59"}]},"mark":{"type":"text","color":"#FFFF00","fontSize":16,"align":"left","baseline":"alphabetic","font":"Liberation Sans"},
 "encoding":{"x":{"field":"n","type":"quantitative","scale":{"domain":[-0.5875,233.29],"nice":false,"zero":false},"axis":null},
  "y":{"field":"v","type":"quantitative","scale":{"domain":[146.94,211.23],"nice":false,"zero":false},"axis":null},"text":{"field":"t"}}},
{"data":{"values":[{"n":188.9,"v":196.55,"t":"先週の十字架、ドンピシャを"},{"n":188.9,"v":194.24,"t":"抜けた。上げ勢い強い"}]},"mark":{"type":"text","color":"#FFFF00","fontSize":18,"align":"left","baseline":"alphabetic","font":"Noto Sans CJK JP"},
 "encoding":{"x":{"field":"n","type":"quantitative","scale":{"domain":[-0.5875,233.29],"nice":false,"zero":false},"axis":null},
  "y":{"field":"v","type":"quantitative","scale":{"domain":[146.94,211.23],"nice":false,"zero":false},"axis":null},"text":{"field":"t"}}},
{"data":{"values":[{"n":232.5,"v":208.39,"t":"197.445"},{"n":232.5,"v":206.53,"t":"197.396"}]},"mark":{"type":"text","color":"#7CFC00","fontSize":27,"align":"right","baseline":"alphabetic","font":"Liberation Sans"},
 "encoding":{"x":{"field":"n","type":"quantitative","scale":{"domain":[-0.5875,233.29],"nice":false,"zero":false},"axis":null},
  "y":{"field":"v","type":"quantitative","scale":{"domain":[146.94,211.23],"nice":false,"zero":false},"axis":null},"text":{"field":"t"}}},
{"data":{"values":[{"n":232.5,"v":205.0,"t":"Day(20) = 2.251"},{"n":232.5,"v":203.86,"t":"Day(10) = 1.460"},{"n":232.5,"v":202.75,"t":"Day(5) = 1.540"},{"n":232.5,"v":201.63,"t":"MAX(40) = 5.956"},{"n":232.5,"v":200.52,"t":"MIN(40) = 1.084"}]},"mark":{"type":"text","color":"#FFFFFF","fontSize":12,"align":"right","baseline":"alphabetic","font":"Liberation Sans"},
 "encoding":{"x":{"field":"n","type":"quantitative","scale":{"domain":[-0.5875,233.29],"nice":false,"zero":false},"axis":null},
  "y":{"field":"v","type":"quantitative","scale":{"domain":[146.94,211.23],"nice":false,"zero":false},"axis":null},"text":{"field":"t"}}},
{"data":{"values":[{"n":1.79,"v":210.34,"t":"GBPJPY,Weekly  194.997 198.420 194.551 197.396"}]},"mark":{"type":"text","color":"#FFFFFF","fontSize":11,"align":"left","baseline":"alphabetic","font":"Liberation Sans"},
 "encoding":{"x":{"field":"n","type":"quantitative","scale":{"domain":[-0.5875,233.29],"nice":false,"zero":false},"axis":null},
  "y":{"field":"v","type":"quantitative","scale":{"domain":[146.94,211.23],"nice":false,"zero":false},"axis":null},"text":{"field":"t"}}},
{"data":{"values":[{"n":0.75,"v":210.55}]},"mark":{"type":"point","shape":"triangle-down","filled":true,"color":"#FFFFFF","size":22},
 "encoding":{"x":{"field":"n","type":"quantitative","scale":{"domain":[-0.5875,233.29],"nice":false,"zero":false},"axis":null},
  "y":{"field":"v","type":"quantitative","scale":{"domain":[146.94,211.23],"nice":false,"zero":false},"axis":null}}},
{"data":{"values":[{"n":0.66,"v":147.83,"t":"GBPJPY-Weekly"}]},"mark":{"type":"text","color":"#FFFFFF","fontSize":22,"align":"left","baseline":"alphabetic","font":"Liberation Serif","stroke":"#303030","strokeWidth":0.5},
 "encoding":{"x":{"field":"n","type":"quantitative","scale":{"domain":[-0.5875,233.29],"nice":false,"zero":false},"axis":null},
  "y":{"field":"v","type":"quantitative","scale":{"domain":[146.94,211.23],"nice":false,"zero":false},"axis":null},"text":{"field":"t"}}},
{"data":{"name":"boxes"},"mark":{"type":"tick","orient":"horizontal","size":42,"thickness":10,"opacity":1},
 "encoding":{"x":{"datum":236.1,"type":"quantitative","scale":{"domain":[-0.5875,233.29],"nice":false,"zero":false},"axis":null},
  "y":{"field":"p","type":"quantitative","scale":{"domain":[146.94,211.23],"nice":false,"zero":false},"axis":null},
  "color":{"field":"bg","type":"nominal","scale":null}}},
{"data":{"name":"boxes"},"mark":{"type":"text","color":"#000000","fontSize":10,"align":"left","baseline":"middle","dy":1,"font":"Liberation Sans"},
 "encoding":{"x":{"datum":233.75,"type":"quantitative","scale":{"domain":[-0.5875,233.29],"nice":false,"zero":false},"axis":null},
  "y":{"field":"p","type":"quantitative","scale":{"domain":[146.94,211.23],"nice":false,"zero":false},"axis":null},"text":{"field":"t"}}}
]
}
